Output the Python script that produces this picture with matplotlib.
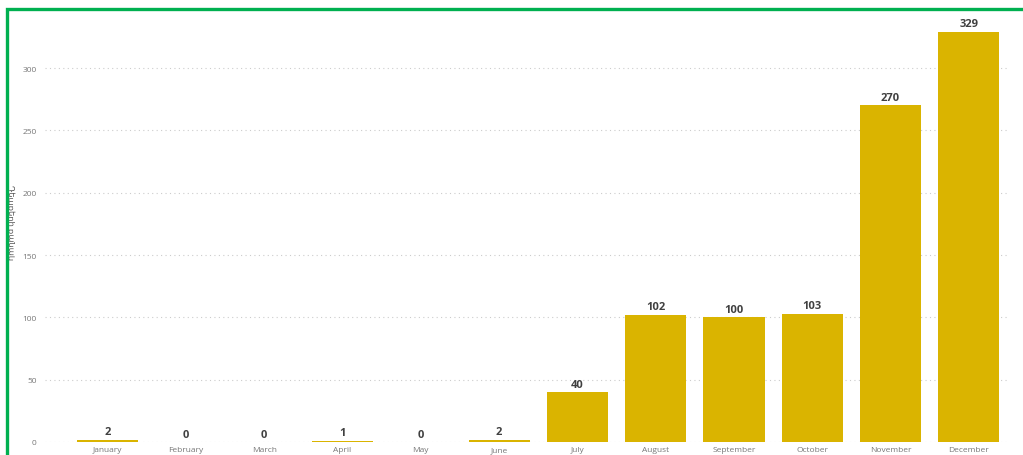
import matplotlib
matplotlib.use("Agg")
import matplotlib.pyplot as plt
from matplotlib.patches import Rectangle

plt.rcParams['font.family'] = ['Open Sans', 'DejaVu Sans']

months = ['January', 'February', 'March', 'April', 'May', 'June', 'July',
          'August', 'September', 'October', 'November', 'December']
counts = [2, 0, 0, 1, 0, 2, 40, 102, 100, 103, 270, 329]
yticks = [0, 50, 100, 150, 200, 250, 300]
ylabel = 'Դեպքերի քանակ'

W, H = 1023, 456
fig = plt.figure(figsize=(W / 100, H / 100), dpi=100)
ax = fig.add_axes([45 / W, 13 / H, (1008 - 45) / W, (443 - 13) / H])

bar_color = '#DAB400'
x = range(len(months))
bars = ax.bar(x, counts, width=0.78, color=bar_color, linewidth=0, zorder=3)

for xi, v in zip(x, counts):
    ax.text(xi, v + 2, str(v), ha='center', va='bottom', fontsize=8,
            fontweight='bold', color='#404040', zorder=4)

ax.set_xlim(-0.8, 11.5)
ax.set_ylim(0, 345)
ax.set_yticks(yticks)
ax.set_xticks(list(x))
ax.set_xticklabels(months, fontsize=6, color='#777777')
ax.tick_params(axis='y', labelsize=6, labelcolor='#777777', length=0, pad=6)
ax.tick_params(axis='x', length=0, pad=3)
ax.grid(axis='y', linestyle=(0, (1, 3)), color='#cccccc', linewidth=0.8, zorder=0)
for s in ax.spines.values():
    s.set_visible(False)

fig.text(10 / W, 233 / H, ylabel, rotation=270, ha='center', va='center',
         fontsize=6, color='#555555')

# green frame
fig.patches.append(Rectangle((7 / W, -0.2), 2.0, 1 - 10 / H + 0.2,
                             transform=fig.transFigure, fill=False,
                             edgecolor='#00b050', linewidth=2.4, zorder=10))

fig.savefig('out.png', dpi=100)
